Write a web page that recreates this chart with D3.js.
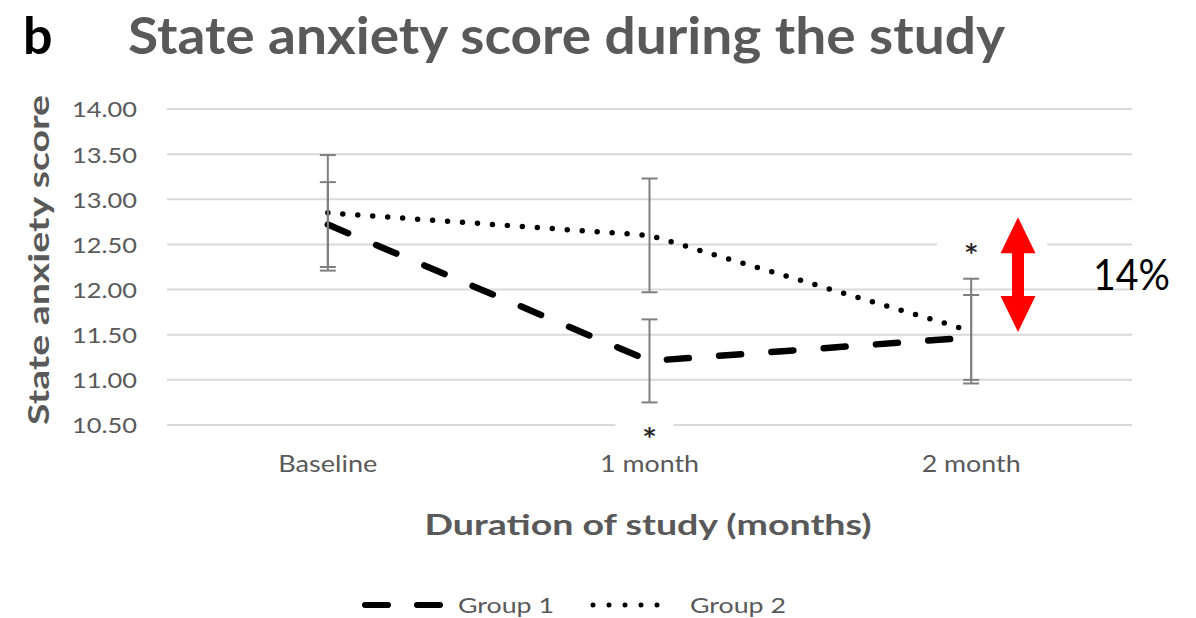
<!DOCTYPE html>
<html>
<head>
<meta charset="utf-8">
<script src="https://cdn.jsdelivr.net/npm/d3@7"></script>
<style>
  html, body { margin: 0; padding: 0; background: #fff; }
  svg { display: block; font-family: Lato, "Open Sans", sans-serif; }
</style>
</head>
<body>
<svg id="chart" width="1196" height="618"></svg>
<script>
// ---- data ----
const categories = ["Baseline", "1 month", "2 month"];
const group1Mean = [12.72, 11.21, 11.47];
const group1Err  = [0.47, 0.46, 0.47];
const group2Mean = [12.85, 12.60, 11.54];
const group2Err  = [0.64, 0.63, 0.58];
const yTicks = [10.5, 11.0, 11.5, 12.0, 12.5, 13.0, 13.5, 14.0];
const seriesNames = ["Group 1", "Group 2"];
// significance markers: category and the value at the star's centre
const starCategories = ["1 month", "2 month"];
const starValues = [10.42, 12.46];
// change annotation between the two groups at 2 months
const changeRange = [11.53, 12.80];
const changeLabel = "14%";

const svg = d3.select("#chart");
const grey = "#595959";

const y = d3.scaleLinear().domain([10.5, 14]).range([425, 109]);
const x = d3.scaleBand().domain(categories).range([167, 1132]);
const cx = c => x(c) + x.bandwidth() / 2;

// sets an exact rendered width on a text element
function fit(sel, w) {
  sel.attr("textLength", w).attr("lengthAdjust", "spacingAndGlyphs");
  return sel;
}

// ---- title ----
svg.append("text").attr("x", 23).attr("y", 54)
  .attr("font-size", 52).attr("font-weight", 700).attr("fill", "#000")
  .text("b");
fit(svg.append("text").attr("x", 128).attr("y", 54)
  .attr("font-size", 52).attr("font-weight", 700).attr("fill", grey)
  .text("State anxiety score during the study"), 877);

// ---- gridlines ----
svg.append("g").selectAll("line").data(yTicks).join("line")
  .attr("x1", 167).attr("x2", 1132)
  .attr("y1", d => y(d)).attr("y2", d => y(d))
  .attr("stroke", "#d9d9d9").attr("stroke-width", 2);

// ---- y axis labels ----
const yAxis = svg.append("g").attr("transform", "translate(137,0)")
  .call(d3.axisLeft(y).tickValues(yTicks).tickFormat(d3.format(".2f")).tickSize(0).tickPadding(0));
yAxis.select(".domain").remove();
yAxis.selectAll("text")
  .attr("font-family", "Lato, 'Open Sans', sans-serif")
  .attr("font-size", 22).attr("fill", grey).attr("dy", "0.36em")
  .each(function () { fit(d3.select(this), 65); });

// ---- x axis labels ----
const xAxis = svg.append("g").attr("transform", "translate(0,425)")
  .call(d3.axisBottom(x).tickSize(0).tickPadding(0));
xAxis.select(".domain").remove();
xAxis.selectAll("text")
  .attr("font-family", "Lato, 'Open Sans', sans-serif")
  .attr("font-size", 23).attr("fill", grey).attr("y", 47).attr("dy", 0)
  .each(function () { fit(d3.select(this), 99); });

// ---- axis titles ----
fit(svg.append("text").attr("x", 648).attr("y", 535).attr("text-anchor", "middle")
  .attr("font-size", 29).attr("font-weight", 700).attr("fill", grey)
  .text("Duration of study (months)"), 447);
fit(svg.append("text").attr("transform", "translate(49,260) rotate(-90)")
  .attr("text-anchor", "middle")
  .attr("font-size", 29).attr("font-weight", 700).attr("fill", grey)
  .text("State anxiety score"), 330);

// ---- white boxes behind the significance stars ----
const starG = svg.append("g");
starG.append("rect").attr("x", cx("1 month") - 34).attr("y", y(10.5) - 6)
  .attr("width", 58).attr("height", 26).attr("fill", "#fff");
starG.append("rect").attr("x", cx("2 month") - 34).attr("y", y(12.5) - 18)
  .attr("width", 110).attr("height", 36).attr("fill", "#fff");

// ---- series lines ----
const line = d3.line().x((d, i) => cx(categories[i])).y(d => y(d));
svg.append("path").datum(group1Mean).attr("d", line)
  .attr("fill", "none").attr("stroke", "#000").attr("stroke-width", 6.5)
  .attr("stroke-linecap", "round").attr("stroke-dasharray", "22,30.4");
svg.append("path").datum(group2Mean).attr("d", line)
  .attr("fill", "none").attr("stroke", "#000").attr("stroke-width", 5.5)
  .attr("stroke-linecap", "round").attr("stroke-dasharray", "0,15");

// ---- error bars ----
const bars = [];
categories.forEach((c, i) => {
  bars.push({ c, lo: group1Mean[i] - group1Err[i], hi: group1Mean[i] + group1Err[i] });
  bars.push({ c, lo: group2Mean[i] - group2Err[i], hi: group2Mean[i] + group2Err[i] });
});
const eb = svg.append("g").attr("stroke", "#7f7f7f").attr("stroke-width", 2);
bars.forEach(b => {
  const px = cx(b.c);
  eb.append("line").attr("x1", px).attr("x2", px).attr("y1", y(b.hi)).attr("y2", y(b.lo));
  eb.append("line").attr("x1", px - 8).attr("x2", px + 8).attr("y1", y(b.hi)).attr("y2", y(b.hi));
  eb.append("line").attr("x1", px - 8).attr("x2", px + 8).attr("y1", y(b.lo)).attr("y2", y(b.lo));
});

// ---- significance stars ----
const starSize = 23;
svg.append("g").selectAll("text").data(starCategories).join("text")
  .attr("x", d => cx(d)).attr("y", (d, i) => y(starValues[i]) + 0.52 * starSize)
  .attr("text-anchor", "middle")
  .attr("font-family", "'DejaVu Sans', sans-serif")
  .attr("font-size", starSize).attr("font-weight", 700).attr("fill", "#262626")
  .text("*");

// ---- change arrow and label ----
const arrowX = 1018, arrowTop = y(changeRange[1]), arrowBot = y(changeRange[0]);
const hw = 17.5, hh = 36, sw = 6;
const arrow = d3.path();
arrow.moveTo(arrowX, arrowTop);
arrow.lineTo(arrowX + hw, arrowTop + hh);
arrow.lineTo(arrowX + sw, arrowTop + hh);
arrow.lineTo(arrowX + sw, arrowBot - hh);
arrow.lineTo(arrowX + hw, arrowBot - hh);
arrow.lineTo(arrowX, arrowBot);
arrow.lineTo(arrowX - hw, arrowBot - hh);
arrow.lineTo(arrowX - sw, arrowBot - hh);
arrow.lineTo(arrowX - sw, arrowTop + hh);
arrow.lineTo(arrowX - hw, arrowTop + hh);
arrow.closePath();
svg.append("path").attr("d", arrow.toString()).attr("fill", "#ff0000");
fit(svg.append("text").attr("x", 1093).attr("y", 290)
  .attr("font-size", 42).attr("fill", "#000").text(changeLabel), 77);

// ---- legend ----
const lg = svg.append("g");
lg.append("line").attr("x1", 365).attr("x2", 442).attr("y1", 605).attr("y2", 605)
  .attr("stroke", "#000").attr("stroke-width", 6).attr("stroke-linecap", "round")
  .attr("stroke-dasharray", "23,29");
lg.append("line").attr("x1", 593).attr("x2", 673).attr("y1", 605).attr("y2", 605)
  .attr("stroke", "#000").attr("stroke-width", 5).attr("stroke-linecap", "round")
  .attr("stroke-dasharray", "0,16");
[[458, seriesNames[0]], [690, seriesNames[1]]].forEach(([lx, t]) => {
  fit(lg.append("text").attr("x", lx).attr("y", 613)
    .attr("font-size", 22).attr("fill", grey).text(t), 96);
});
</script>
</body>
</html>
